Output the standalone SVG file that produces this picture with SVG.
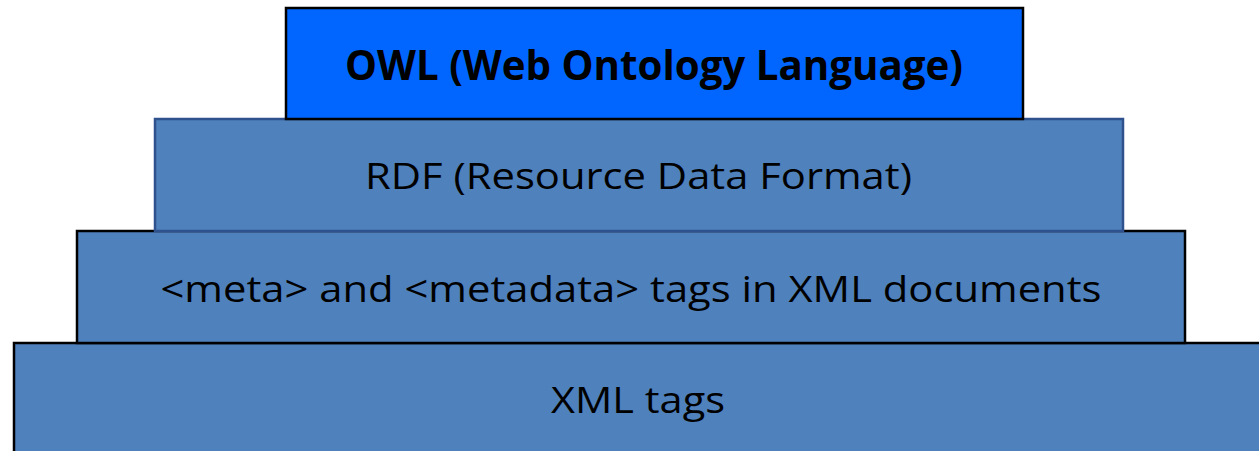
<svg xmlns="http://www.w3.org/2000/svg" width="1259" height="451" viewBox="0 0 1259 451">
  <style>
    .layer { fill: #4F81BD; stroke: #000000; stroke-width: 2.5; }
    .label { font-family: "Open Sans", "Liberation Sans", sans-serif; font-size: 36px; fill: #000000; text-anchor: middle; }
    .bold { font-weight: bold; font-size: 40.5px; }
  </style>
  <rect width="1259" height="451" fill="#FFFFFF"/>

  <!-- bottom layer -->
  <g id="xml-tags">
    <rect class="layer" x="14" y="343" width="1260" height="120"/>
    <text class="label" x="638" y="413" textLength="174" lengthAdjust="spacingAndGlyphs">XML tags</text>
  </g>

  <g id="meta-tags">
    <rect class="layer" x="77" y="231" width="1108" height="112"/>
    <text class="label" x="631" y="302" textLength="941" lengthAdjust="spacingAndGlyphs">&lt;meta&gt; and &lt;metadata&gt; tags in XML documents</text>
  </g>

  <g id="rdf">
    <rect class="layer" x="155" y="119" width="968" height="112" style="stroke:#2F528F"/>
    <text class="label" x="638.5" y="189" textLength="547" lengthAdjust="spacingAndGlyphs">RDF (Resource Data Format)</text>
  </g>

  <!-- top layer -->
  <g id="owl">
    <rect class="layer" x="286" y="8" width="737" height="111" style="fill:#0066FF"/>
    <text class="label bold" x="654" y="80" textLength="618" lengthAdjust="spacingAndGlyphs">OWL (Web Ontology Language)</text>
  </g>
</svg>
